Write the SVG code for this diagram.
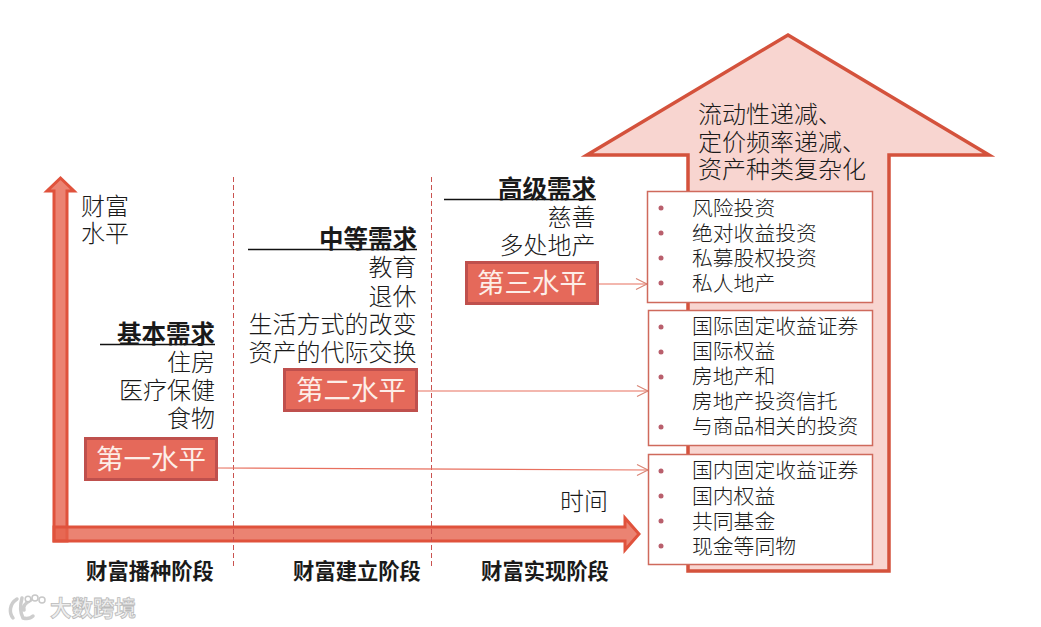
<svg xmlns="http://www.w3.org/2000/svg" width="1041" height="627" viewBox="0 0 1041 627">
<style>
text{font-family:"Liberation Sans","Noto Sans CJK SC",sans-serif;fill:#1a1a1a;font-weight:300}
.b{font-size:24px;text-anchor:end}
.h{font-size:24.500px;text-anchor:end;font-weight:700}
.l{font-size:20.800px}
.s{font-size:21.300px;font-weight:700;text-anchor:middle}
.t{font-size:24px}
.lv{font-size:27.500px;fill:#fdeee8;text-anchor:middle;font-weight:400}
.lr{fill:#e5695a;stroke:#bf504d;stroke-width:3}
.box{fill:#fff;stroke:#cf6a5c;stroke-width:1.500}
.ax{fill:#e5604a;fill-opacity:.78;stroke:#e0523c;stroke-width:3}
.bu{fill:#b95f6c}
.u{stroke:#111;stroke-width:1.300}
.d{stroke:#c9524f;stroke-width:1;stroke-dasharray:5 3}
.c{stroke:#e8705f;stroke-width:1.200;fill:none;marker-end:url(#a)}
</style>
<defs><marker id="a" markerUnits="userSpaceOnUse" markerWidth="14" markerHeight="14" refX="12" refY="7" orient="auto"><path d="M1 1.500L12 7L1 12.500" fill="none" stroke="#d98474" stroke-width="1.100"/></marker></defs>
<rect width="1041" height="627" fill="#fff"/>
<g id="big-arrow"><path d="M788 35L989 155H889V571H688V155H587Z" fill="#f8d5d0" stroke="#d4523c" stroke-width="3.500"/>
<text class="t" x="698" y="123">流动性递减、</text><text class="t" x="698" y="151">定价频率递减、</text><text class="t" x="698" y="178">资产种类复杂化</text></g>
<g id="axis-y"><path d="M60.500 178L74 191H67V541H54V191H47Z" class="ax"/></g>
<g id="axis-x"><path d="M54 527H625V518L639 534L625 550V541H54Z" class="ax"/><text class="t" x="560" y="510">时间</text></g>
<g id="y-label"><text class="t" x="81" y="215">财富</text><text class="t" x="81" y="242">水平</text></g>
<g id="dividers"><line class="d" x1="233.500" y1="177" x2="233.500" y2="566"/><line class="d" x1="431.500" y1="177" x2="431.500" y2="566"/></g>
<g id="connectors"><path class="c" d="M217 468L648 470"/><path class="c" d="M417 391H648"/><path class="c" d="M598 284H647"/></g>
<g id="level-1"><rect class="lr" x="85.500" y="438.500" width="131" height="41"/><text class="lv" x="151" y="469">第一水平</text>
<line class="u" x1="100" y1="344.500" x2="215" y2="344.500"/><text class="h" x="215" y="343">基本需求</text><text class="b" x="215" y="371">住房</text><text class="b" x="215" y="399">医疗保健</text><text class="b" x="215" y="427">食物</text></g>
<g id="level-2"><rect class="lr" x="284.500" y="369.500" width="132" height="41"/><text class="lv" x="351" y="400">第二水平</text>
<line class="u" x1="248" y1="249.500" x2="417" y2="249.500"/><text class="h" x="417" y="248">中等需求</text><text class="b" x="416.500" y="276">教育</text><text class="b" x="416.500" y="305">退休</text><text class="b" x="416.500" y="333">生活方式的改变</text><text class="b" x="416.500" y="361">资产的代际交换</text></g>
<g id="level-3"><rect class="lr" x="466.500" y="262.500" width="131" height="41"/><text class="lv" x="532" y="293">第三水平</text>
<line class="u" x1="444" y1="199.500" x2="596" y2="199.500"/><text class="h" x="596" y="198">高级需求</text><text class="b" x="595.500" y="226">慈善</text><text class="b" x="595.500" y="254">多处地产</text></g>
<g id="box-3"><rect class="box" x="647.500" y="191.500" width="225" height="111"/>
<circle class="bu" cx="661" cy="208" r="2.500"/><circle class="bu" cx="661" cy="233" r="2.500"/><circle class="bu" cx="661" cy="258" r="2.500"/><circle class="bu" cx="661" cy="283" r="2.500"/>
<text class="l" x="692" y="216">风险投资</text><text class="l" x="692" y="241">绝对收益投资</text><text class="l" x="692" y="266">私募股权投资</text><text class="l" x="692" y="291">私人地产</text></g>
<g id="box-2"><rect class="box" x="648.500" y="310.500" width="224" height="135"/>
<circle class="bu" cx="661" cy="327" r="2.500"/><circle class="bu" cx="661" cy="352" r="2.500"/><circle class="bu" cx="661" cy="377" r="2.500"/><circle class="bu" cx="661" cy="427" r="2.500"/>
<text class="l" x="692" y="334">国际固定收益证券</text><text class="l" x="692" y="359">国际权益</text><text class="l" x="692" y="384">房地产和</text><text class="l" x="692" y="409">房地产投资信托</text><text class="l" x="692" y="434">与商品相关的投资</text></g>
<g id="box-1"><rect class="box" x="648.500" y="454.500" width="224" height="110"/>
<circle class="bu" cx="661" cy="471" r="2.500"/><circle class="bu" cx="661" cy="496" r="2.500"/><circle class="bu" cx="661" cy="521" r="2.500"/><circle class="bu" cx="661" cy="546" r="2.500"/>
<text class="l" x="692" y="478">国内固定收益证券</text><text class="l" x="692" y="504">国内权益</text><text class="l" x="692" y="529">共同基金</text><text class="l" x="692" y="554">现金等同物</text></g>
<g id="stages"><text class="s" x="150" y="579">财富播种阶段</text><text class="s" x="357" y="579">财富建立阶段</text><text class="s" x="545" y="579">财富实现阶段</text></g>
<g id="watermark"><path d="M17 599C9 604 9 613 13 618M22 598C20 605 20 612 23 618C27 619 31 618 33 616M31 600C25 603 23 607 24 610" fill="none" stroke="#cdcdcd" stroke-width="3.500" stroke-linecap="round"/><circle cx="28" cy="599" r="2.800" fill="#fff" stroke="#c8c8c8" stroke-width="1.500"/><circle cx="35" cy="598" r="3" fill="#fff" stroke="#c8c8c8" stroke-width="1.500"/><circle cx="42" cy="600" r="3" fill="#fff" stroke="#c8c8c8" stroke-width="1.500"/>
<text x="50" y="616" style="font-size:21.500px;font-weight:700;fill:#eee;stroke:#bbb;stroke-width:.8px">大数跨境</text></g>
</svg>
